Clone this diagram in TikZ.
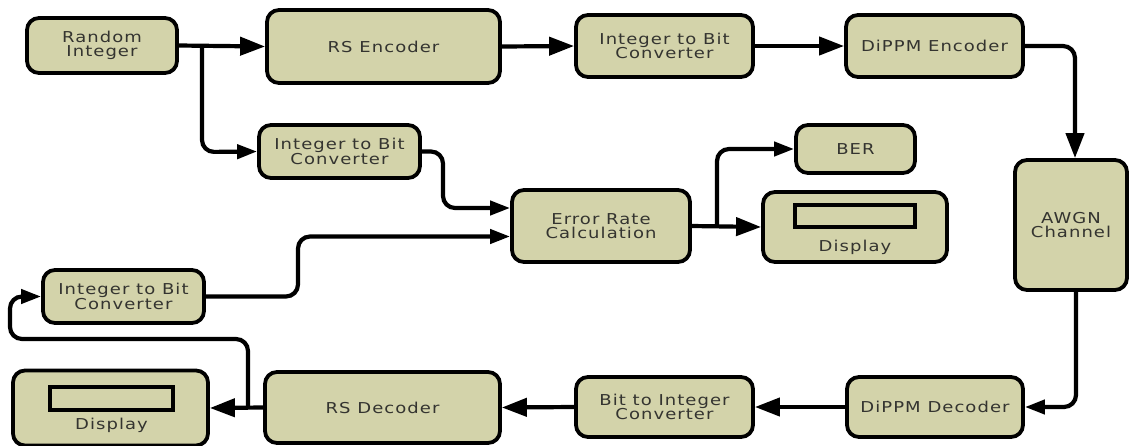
\documentclass[tikz,border=0pt]{standalone}
\usepackage{fontspec}
\setmainfont{DejaVu Sans}[FakeStretch=1.2, LetterSpace=7]
\usetikzlibrary{arrows.meta}
\definecolor{boxfill}{RGB}{211,211,170}
\definecolor{txt}{RGB}{52,52,48}
\begin{document}
\begin{tikzpicture}[x=1pt,y=-1pt,
  blk/.style={draw=black, line width=3.8pt, rounded corners=12pt, fill=boxfill, text=txt, align=center, inner sep=0pt, font=\fontsize{15}{14.5}\selectfont},
  conn/.style={line width=4.2pt, rounded corners=12pt},
  big/.style={conn, -{Triangle[length=25pt,width=18pt]}},
  small/.style={conn, -{Triangle[length=20pt,width=14pt]}},
  screen/.style={draw=black, line width=4pt, fill=boxfill, inner sep=0pt},
  lbl/.style={text=txt, inner sep=0pt, font=\fontsize{15}{14.5}\selectfont}
]
\useasboundingbox (0,0) rectangle (1130,445);

% nodes
\node[blk, minimum width=150pt, minimum height=55pt] (ri) at (102,45.5) {Random\\Integer};
\node[blk, minimum width=233pt, minimum height=73pt] (rse) at (383.5,46.5) {RS Encoder};
\node[blk, minimum width=177pt, minimum height=62pt] (ib1) at (664.5,46) {Integer to Bit\\Converter};
\node[blk, minimum width=177pt, minimum height=62pt] (dpe) at (934.5,46) {DiPPM Encoder};
\node[blk, minimum width=119pt, minimum height=48pt] (ber) at (855.5,149) {BER};
\node[blk, minimum width=161pt, minimum height=53pt] (ib2) at (339.5,151.5) {Integer to Bit\\Converter};
\node[blk, minimum width=178pt, minimum height=72pt] (erc) at (601,226) {Error Rate\\Calculation};
\node[blk, minimum width=184pt, minimum height=70pt] (d1) at (855,227) {};
\node[screen, minimum width=120pt, minimum height=22pt] (s1) at (855,216) {};
\node[lbl] (t1) at (855,247) {Display};
\node[blk, minimum width=112pt, minimum height=130pt] (awgn) at (1071,225) {AWGN\\Channel};
\node[blk, minimum width=161pt, minimum height=53pt] (ib3) at (123.5,296.5) {Integer to Bit\\Converter};
\node[blk, minimum width=195pt, minimum height=75pt] (d2) at (110.5,408) {};
\node[screen, minimum width=123pt, minimum height=23pt] (s2) at (111.5,398.5) {};
\node[lbl] (t2) at (111.5,425) {Display};
\node[blk, minimum width=235pt, minimum height=71pt] (rsd) at (382.5,407.5) {RS Decoder};
\node[blk, minimum width=177pt, minimum height=60pt] (bi) at (664.5,407) {Bit to Integer\\Converter};
\node[blk, minimum width=176pt, minimum height=60pt] (dpd) at (935,407) {DiPPM Decoder};

% helper coordinates
\coordinate (b1) at (202,45.5);
\coordinate (b2) at (248,407.5);
\coordinate (b3) at (717,226);

% connectors
\draw[big] (ri.east) -- (rse.west);
\draw[small] (b1) -- (202,152) -- (ib2.west);
\draw[big] (rse.east) -- (ib1.west);
\draw[big] (ib1.east) -- (dpe.west);
\draw[big] (dpe.east) -| ([xshift=4pt]awgn.north);
\draw[small] ([xshift=5pt]awgn.south) |- (dpd.east);
\draw[big] (dpd.west) -- (bi.east);
\draw[big] (bi.west) -- (rsd.east);
\draw[big] (rsd.west) -- (d2.east);
\draw[small] (b2) -- (248,339) -- (10,339) -- (10,296.5) -- (ib3.west);
\draw[small] (ib2.east) -- (443,151.5) -- (443,208) -- ([yshift=18pt]erc.west);
\draw[small] (ib3.east) -- (298,296.5) -- (298,236.5) -- ([yshift=-10.5pt]erc.west);
\draw[big] (erc.east) -- (d1.west);
\draw[small] (b3) -- (717,149) -- (ber.west);
\end{tikzpicture}
\end{document}
